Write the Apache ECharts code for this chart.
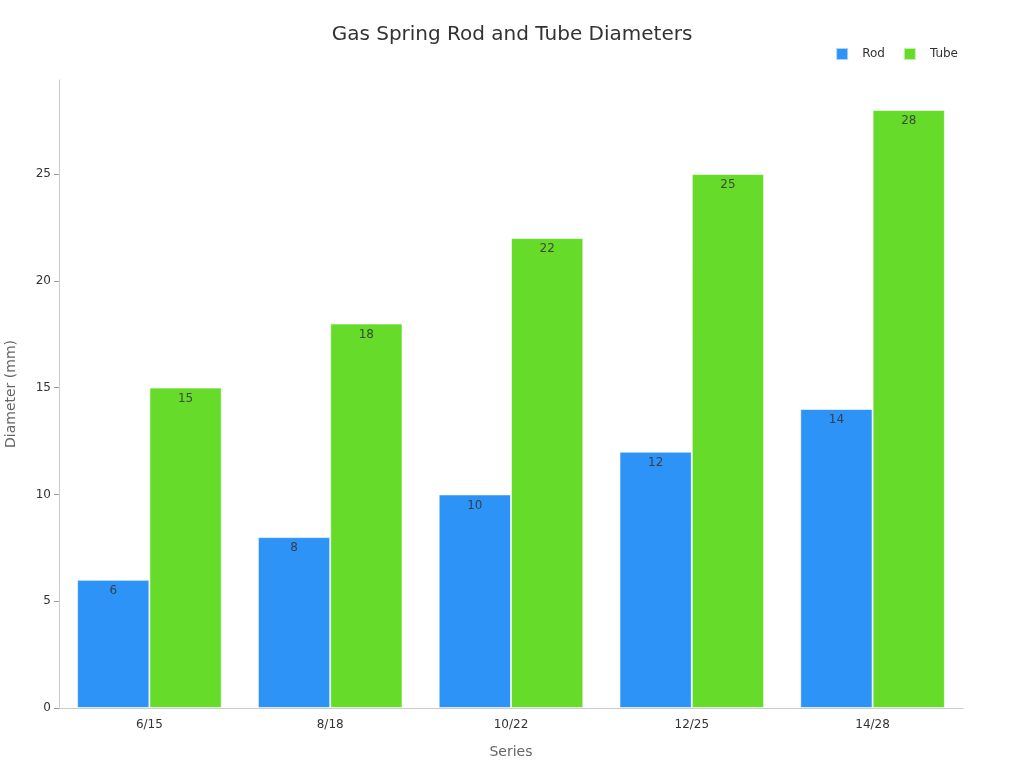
<!DOCTYPE html>
<html>
<head>
<meta charset="utf-8">
<script src="https://cdn.jsdelivr.net/npm/echarts@6/dist/echarts.min.js"></script>
<style>
html,body{margin:0;padding:0;background:#fff;}
#chart{width:1024px;height:768px;}
</style>
</head>
<body>
<div id="chart"></div>
<script>
var categories = ['6/15', '8/18', '10/22', '12/25', '14/28'];
var rodData = [6, 8, 10, 12, 14];
var tubeData = [15, 18, 22, 25, 28];
var seriesNames = ['Rod', 'Tube'];

var myChart = echarts.init(document.getElementById('chart'));
var labelStyle = {
    show: true,
    position: 'insideTop',
    color: 'rgba(50,50,50,0.85)',
    fontSize: 12,
    fontFamily: 'DejaVu Sans'
};
var option = {
    color: ['#2E93F7', '#66DB2A'],
    textStyle: { fontFamily: 'DejaVu Sans' },
    title: {
        text: 'Gas Spring Rod and Tube Diameters',
        left: 'center',
        top: 20,
        textStyle: { fontSize: 20, fontWeight: 'normal', color: '#333', fontFamily: 'DejaVu Sans' }
    },
    legend: {
        data: seriesNames,
        right: 61,
        top: 42,
        icon: 'rect',
        itemWidth: 12,
        itemHeight: 12,
        itemGap: 18,
        textStyle: { fontSize: 12, color: '#333', padding: [0, 0, 0, 9] }
    },
    grid: { left: 59, right: 61, top: 80, bottom: 60, outerBoundsMode: 'none', containLabel: false },
    xAxis: {
        type: 'category',
        data: categories,
        name: 'Series',
        nameLocation: 'middle',
        nameGap: 37,
        nameTextStyle: { fontSize: 14, color: '#666' },
        axisLine: { lineStyle: { color: '#ccc' } },
        axisTick: { alignWithLabel: true, lineStyle: { color: '#666' } },
        axisLabel: { color: '#333', fontSize: 12, margin: 11 }
    },
    yAxis: {
        type: 'value',
        min: 0,
        max: 29.4,
        interval: 5,
        name: 'Diameter (mm)',
        nameLocation: 'middle',
        nameGap: 41,
        nameTextStyle: { fontSize: 14, color: '#666' },
        axisLine: { show: true, lineStyle: { color: '#ccc' } },
        axisTick: { show: true, lineStyle: { color: '#999' } },
        splitLine: { show: false },
        axisLabel: { color: '#333', fontSize: 12, showMaxLabel: false }
    },
    series: [
        {
            name: seriesNames[0],
            type: 'bar',
            data: rodData,
            barGap: '0%',
            barCategoryGap: '20%',
            itemStyle: { borderColor: 'rgba(255,255,255,0.6)', borderWidth: 1 },
            label: labelStyle
        },
        {
            name: seriesNames[1],
            type: 'bar',
            data: tubeData,
            barGap: '0%',
            barCategoryGap: '20%',
            itemStyle: { borderColor: 'rgba(255,255,255,0.6)', borderWidth: 1 },
            label: labelStyle
        }
    ]
};
myChart.setOption(option);
</script>
</body>
</html>
